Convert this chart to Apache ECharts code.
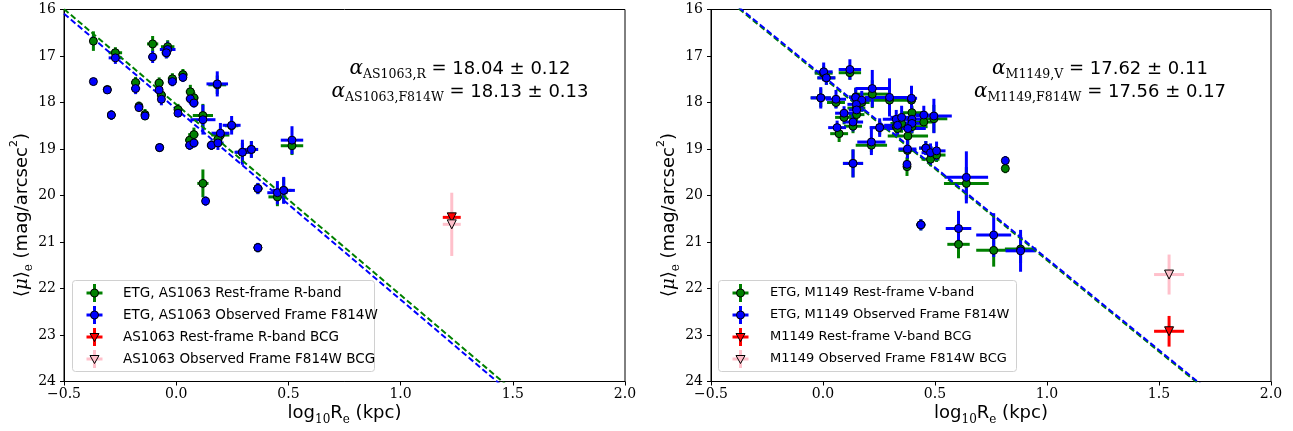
<!DOCTYPE html>
<html>
<head>
<meta charset="utf-8">
<script src="https://cdn.jsdelivr.net/npm/echarts@6/dist/echarts.min.js"></script>
<style>
  html, body { margin: 0; padding: 0; background: #fff; }
  #chart { width: 1293px; height: 431px; }
</style>
</head>
<body>
<div id="chart"></div>
<script>
// ---------- AS1063 ----------
const asRestX    = [-0.369,-0.271,-0.105,-0.038,-0.044,-0.307,-0.181,-0.076,-0.066,-0.017,0.030,0.063,0.079,-0.289,-0.166,-0.139,0.008,-0.074,0.119,0.183,0.247,0.197,0.060,0.079,0.157,0.186,0.295,0.335,0.516,0.119,0.364,0.451,0.479,0.364];
const asRestY    = [16.68,16.93,16.74,16.80,16.93,17.72,17.57,17.58,17.84,17.49,17.40,17.77,17.90,18.27,18.08,18.26,18.15,18.97,18.28,17.62,18.50,18.70,18.81,18.69,18.92,18.79,19.07,19.01,18.93,19.74,19.85,20.03,19.89,21.12];
const asRestXErr = [0.01,0.03,0.025,0.03,0.02,0.01,0.02,0.02,0.02,0.02,0.02,0.02,0.02,0.015,0.015,0.015,0.015,0.015,0.045,0.04,0.03,0.04,0.02,0.02,0.02,0.02,0.03,0.03,0.05,0.025,0.02,0.04,0.035,0.015];
const asRestYErr = [0.21,0.12,0.17,0.14,0.12,0.07,0.12,0.12,0.10,0.12,0.12,0.15,0.12,0.10,0.10,0.12,0.12,0.08,0.25,0.20,0.12,0.15,0.15,0.15,0.10,0.15,0.20,0.18,0.20,0.30,0.12,0.20,0.27,0.10];

const asObsX     = [-0.369,-0.271,-0.105,-0.038,-0.044,-0.307,-0.181,-0.076,-0.066,-0.017,0.030,0.063,0.079,-0.289,-0.166,-0.139,0.008,-0.074,0.119,0.183,0.247,0.197,0.060,0.079,0.157,0.186,0.295,0.335,0.516,0.131,0.364,0.451,0.479,0.364];
const asObsY     = [17.55,17.04,17.02,16.86,16.93,17.73,17.70,17.73,17.93,17.55,17.46,17.92,18.01,18.27,18.11,18.29,18.23,18.97,18.37,17.60,18.49,18.66,18.92,18.87,18.92,18.87,19.07,19.01,18.81,20.12,19.85,19.94,19.89,21.12];
const asObsXErr  = [0.015,0.03,0.02,0.035,0.02,0.01,0.02,0.015,0.015,0.02,0.015,0.02,0.02,0.015,0.015,0.015,0.012,0.015,0.056,0.048,0.04,0.04,0.02,0.02,0.02,0.025,0.035,0.03,0.05,0.01,0.02,0.045,0.05,0.015];
const asObsYErr  = [0.08,0.13,0.13,0.17,0.12,0.07,0.12,0.12,0.13,0.10,0.10,0.12,0.10,0.10,0.08,0.08,0.08,0.08,0.32,0.27,0.20,0.22,0.10,0.10,0.10,0.15,0.27,0.18,0.30,0.10,0.12,0.25,0.29,0.10];

// AS1063 BCG: [x, y, xerr, yerr]
const asBcgRest = [1.228, 20.47, 0.04, 0.10];
const asBcgObs  = [1.228, 20.62, 0.04, 0.68];

// AS1063 fits: mu = intercept + slope * log10(Re)
const asFitRest = { intercept: 18.04, slope: 4.10 };
const asFitObs  = { intercept: 18.14, slope: 4.10 };

// ---------- M1149 ----------
const mRestX    = [0.003,0.015,0.120,-0.010,0.058,0.146,0.173,0.149,0.150,0.094,0.220,0.297,0.395,0.072,0.134,0.253,0.327,0.351,0.333,0.397,0.397,0.379,0.450,0.495,0.216,0.134,0.377,0.375,0.459,0.480,0.507,0.640,0.814,0.437,0.605,0.762,0.882];
const mRestY    = [17.37,17.47,17.36,17.90,18.00,17.88,18.00,18.12,18.26,18.32,17.82,17.95,17.95,18.67,18.51,18.54,18.52,18.45,18.56,18.22,18.52,18.72,18.42,18.35,18.92,19.31,19.03,19.38,18.98,19.22,19.13,19.74,19.42,20.63,21.05,21.18,21.15];
const mRestXErr = [0.04,0.04,0.05,0.045,0.04,0.03,0.035,0.04,0.035,0.04,0.07,0.10,0.02,0.04,0.04,0.04,0.06,0.05,0.06,0.05,0.07,0.09,0.05,0.06,0.07,0.045,0.04,0.01,0.03,0.04,0.04,0.10,0.01,0.02,0.05,0.078,0.07];
const mRestYErr = [0.15,0.15,0.15,0.20,0.12,0.20,0.20,0.15,0.15,0.15,0.30,0.30,0.20,0.18,0.15,0.15,0.15,0.20,0.15,0.15,0.15,0.20,0.15,0.30,0.15,0.30,0.20,0.20,0.15,0.15,0.15,0.35,0.10,0.12,0.30,0.35,0.30];

const mObsX     = [0.003,0.015,0.120,-0.010,0.058,0.146,0.173,0.149,0.150,0.094,0.220,0.297,0.395,0.063,0.134,0.253,0.327,0.351,0.333,0.397,0.397,0.379,0.450,0.495,0.216,0.134,0.377,0.375,0.459,0.480,0.507,0.640,0.814,0.437,0.605,0.762,0.882];
const mObsY     = [17.34,17.47,17.29,17.90,17.93,17.89,17.95,18.04,18.16,18.23,17.70,17.89,17.91,18.54,18.42,18.54,18.36,18.32,18.49,18.36,18.45,18.56,18.27,18.29,18.85,19.31,19.00,19.33,18.98,19.08,19.04,19.61,19.25,20.63,20.71,20.85,21.19];
const mObsXErr  = [0.04,0.04,0.05,0.045,0.045,0.03,0.035,0.04,0.035,0.04,0.075,0.11,0.025,0.04,0.045,0.045,0.06,0.05,0.06,0.05,0.06,0.08,0.05,0.08,0.063,0.045,0.04,0.01,0.03,0.04,0.04,0.097,0.01,0.02,0.057,0.078,0.067];
const mObsYErr  = [0.20,0.15,0.22,0.23,0.20,0.20,0.20,0.15,0.15,0.15,0.40,0.41,0.27,0.15,0.20,0.20,0.20,0.25,0.20,0.25,0.20,0.25,0.20,0.37,0.28,0.30,0.20,0.08,0.15,0.20,0.20,0.56,0.10,0.12,0.38,0.47,0.45];

const mBcgRest = [1.545, 22.92, 0.067, 0.33];
const mBcgObs  = [1.545, 21.70, 0.067, 0.43];

const mFitRest = { intercept: 17.46, slope: 3.93 };
const mFitObs  = { intercept: 17.43, slope: 3.93 };

// axis ranges and tick steps
const xRange = [-0.5, 2.0], xStep = 0.5;
const yRange = [16, 24], yStep = 1;

// ---------- styling ----------
const GREEN = '#008000', BLUE = '#0000ff', RED = '#ff0000', PINK = '#ffc0cb';
const SANS = 'DejaVu Sans', SERIF = 'DejaVu Serif';

const grids = [
  { left: 64, top: 9.5, width: 561, height: 372 },
  { left: 711, top: 9.5, width: 560, height: 372 }
];

function rows(xs, ys, xe, ye) { return xs.map((x, i) => [x, ys[i], xe[i], ye[i]]); }

function errSeries(idx, data, color) {
  return {
    type: 'custom', xAxisIndex: idx, yAxisIndex: idx, z: 2, silent: true,
    encode: { x: 0, y: 1 },
    data: data,
    renderItem: function (params, api) {
      const x = api.value(0), y = api.value(1), xe = api.value(2), ye = api.value(3);
      const l = api.coord([x - xe, y]), r = api.coord([x + xe, y]);
      const t = api.coord([x, y - ye]), b = api.coord([x, y + ye]);
      return { type: 'group', children: [
        { type: 'line', shape: { x1: l[0], y1: l[1], x2: r[0], y2: r[1] }, style: { stroke: color, lineWidth: 3 } },
        { type: 'line', shape: { x1: t[0], y1: t[1], x2: b[0], y2: b[1] }, style: { stroke: color, lineWidth: 3 } }
      ]};
    }
  };
}

function markSeries(idx, data, color, symbol) {
  return {
    type: 'scatter', xAxisIndex: idx, yAxisIndex: idx, z: 4, silent: true,
    symbol: symbol === 'tri' ? 'triangle' : 'circle',
    symbolRotate: symbol === 'tri' ? 180 : 0,
    symbolSize: symbol === 'tri' ? 9 : 8,
    data: data.map(d => [d[0], d[1]]),
    itemStyle: { color: color, borderColor: '#000', borderWidth: 1, opacity: 1 }
  };
}

function fitSeries(idx, fit, color) {
  return {
    type: 'line', xAxisIndex: idx, yAxisIndex: idx, z: 3, silent: true,
    showSymbol: false, clip: true,
    data: xRange.map(x => [x, fit.intercept + fit.slope * x]),
    lineStyle: { color: color, width: 2, type: [6, 3] }
  };
}

const fmtX = v => (v < 0 ? '\u2212' : '') + Math.abs(v).toFixed(1);

function xAxis(idx) {
  return {
    type: 'value', gridIndex: idx, min: xRange[0], max: xRange[1], interval: xStep,
    axisLine: { onZero: false, lineStyle: { color: '#000', width: 1 } },
    axisTick: { inside: false, length: 4, lineStyle: { color: '#000' } },
    splitLine: { show: false },
    axisLabel: { formatter: fmtX, color: '#000', fontFamily: SERIF, fontSize: 14, margin: 6 }
  };
}
function yAxis(idx) {
  return {
    type: 'value', gridIndex: idx, min: yRange[0], max: yRange[1], interval: yStep, inverse: true,
    axisLine: { onZero: false, lineStyle: { color: '#000', width: 1 } },
    axisTick: { inside: false, length: 4, lineStyle: { color: '#000' } },
    splitLine: { show: false },
    axisLabel: { color: '#000', fontFamily: SERIF, fontSize: 14, margin: 8 }
  };
}

// ---------- text and legend ----------
const richBase = {
  a: { fontFamily: SERIF, fontStyle: 'italic', fontSize: 20, lineHeight: 24, verticalAlign: 'middle', fill: '#000' },
  s: { fontFamily: SERIF, fontSize: 12.5, lineHeight: 24, verticalAlign: 'bottom', fill: '#000' },
  e: { fontFamily: SERIF, fontSize: 18, lineHeight: 24, verticalAlign: 'middle', fill: '#000' },
  n: { fontFamily: SANS, fontSize: 18, lineHeight: 24, verticalAlign: 'middle', fill: '#000' }
};

function fitLabel(cx, cy, sub, val) {
  return { type: 'text', x: cx, y: cy, z: 10,
    style: { text: '{a|\u03b1}{s|' + sub + '}{e| = }{n|' + val + '}', rich: richBase, align: 'center', verticalAlign: 'middle' } };
}

const axisTitleRich = {
  n: { fontFamily: SANS, fontSize: 18, lineHeight: 26, verticalAlign: 'middle', fill: '#000' },
  m: { fontFamily: SERIF, fontStyle: 'italic', fontSize: 18, lineHeight: 26, verticalAlign: 'middle', fill: '#000' },
  s: { fontFamily: SERIF, fontSize: 12, lineHeight: 26, verticalAlign: 'bottom', fill: '#000' },
  p: { fontFamily: SANS, fontSize: 11, lineHeight: 26, verticalAlign: 'top', fill: '#000' }
};

function xTitle(cx) {
  return { type: 'text', x: cx, y: 413, z: 10,
    style: { text: '{n|log}{s|10}{n|R}{s|e}{n| (kpc)}', rich: axisTitleRich, align: 'center', verticalAlign: 'middle' } };
}
function yTitle(cx, cy) {
  return { type: 'text', x: cx, y: cy, rotation: Math.PI / 2, z: 10,
    style: { text: '{n|\u27e8}{m|\u03bc}{n|\u27e9}{s|e}{n| (mag/arcsec}{p|2}{n|)}', rich: axisTitleRich, align: 'center', verticalAlign: 'middle' } };
}

function legend(box, iconX, textX, fontSize, entries) {
  const children = [{
    type: 'rect', shape: { x: box.x, y: box.y, width: box.w, height: box.h, r: 3 },
    style: { fill: 'rgba(255,255,255,0.8)', stroke: '#d0d0d0', lineWidth: 1 }
  }];
  entries.forEach((e, i) => {
    const cy = box.y + 12.5 + i * 22;
    children.push({ type: 'line', shape: { x1: iconX - 8, y1: cy, x2: iconX + 8, y2: cy }, style: { stroke: e.color, lineWidth: 3 } });
    children.push({ type: 'line', shape: { x1: iconX, y1: cy - 9, x2: iconX, y2: cy + 9 }, style: { stroke: e.color, lineWidth: 3 } });
    if (e.tri) {
      children.push({ type: 'polygon', shape: { points: [[iconX - 4.5, cy - 3.5], [iconX + 4.5, cy - 3.5], [iconX, cy + 4.5]] },
        style: { fill: e.fill, stroke: '#000', lineWidth: 1 } });
    } else {
      children.push({ type: 'circle', shape: { cx: iconX, cy: cy, r: 4 }, style: { fill: e.fill, stroke: '#000', lineWidth: 1 } });
    }
    children.push({ type: 'text', x: textX, y: cy, style: { text: e.label, fontFamily: SANS, fontSize: fontSize, fill: '#000', align: 'left', verticalAlign: 'middle' } });
  });
  return { type: 'group', z: 20, children: children };
}

const chart = echarts.init(document.getElementById('chart'), null, { renderer: 'canvas' });

chart.setOption({
  animation: false,
  backgroundColor: '#fff',
  grid: grids.map(g => Object.assign({ show: true, borderColor: '#000', borderWidth: 1, backgroundColor: 'transparent' }, g)),
  xAxis: [xAxis(0), xAxis(1)],
  yAxis: [yAxis(0), yAxis(1)],
  series: [
    // error bars
    errSeries(0, rows(asRestX, asRestY, asRestXErr, asRestYErr), GREEN),
    errSeries(0, rows(asObsX, asObsY, asObsXErr, asObsYErr), BLUE),
    errSeries(0, [asBcgRest], RED),
    errSeries(0, [asBcgObs], PINK),
    errSeries(1, rows(mRestX, mRestY, mRestXErr, mRestYErr), GREEN),
    errSeries(1, rows(mObsX, mObsY, mObsXErr, mObsYErr), BLUE),
    errSeries(1, [mBcgRest], RED),
    errSeries(1, [mBcgObs], PINK),
    // fitted relations
    fitSeries(0, asFitRest, GREEN),
    fitSeries(0, asFitObs, BLUE),
    fitSeries(1, mFitRest, GREEN),
    fitSeries(1, mFitObs, BLUE),
    // markers
    markSeries(0, rows(asRestX, asRestY, asRestXErr, asRestYErr), GREEN, 'circle'),
    markSeries(0, rows(asObsX, asObsY, asObsXErr, asObsYErr), BLUE, 'circle'),
    markSeries(0, [asBcgRest], RED, 'tri'),
    markSeries(0, [asBcgObs], PINK, 'tri'),
    markSeries(1, rows(mRestX, mRestY, mRestXErr, mRestYErr), GREEN, 'circle'),
    markSeries(1, rows(mObsX, mObsY, mObsXErr, mObsYErr), BLUE, 'circle'),
    markSeries(1, [mBcgRest], RED, 'tri'),
    markSeries(1, [mBcgObs], PINK, 'tri')
  ],
  graphic: [
    fitLabel(460, 69, 'AS1063,R', '18.04 \u00b1 0.12'),
    fitLabel(460, 92, 'AS1063,F814W', '18.13 \u00b1 0.13'),
    fitLabel(1100, 69, 'M1149,V', '17.62 \u00b1 0.11'),
    fitLabel(1100, 92, 'M1149,F814W', '17.56 \u00b1 0.17'),
    xTitle(344.5),
    xTitle(991),
    yTitle(22, 215),
    yTitle(669, 215),
    legend({ x: 72.5, y: 280.5, w: 302, h: 91 }, 94.5, 123, 13.5, [
      { label: 'ETG, AS1063 Rest-frame R-band', color: GREEN, fill: GREEN },
      { label: 'ETG, AS1063 Observed Frame F814W', color: BLUE, fill: BLUE },
      { label: 'AS1063 Rest-frame R-band BCG', color: RED, fill: RED, tri: true },
      { label: 'AS1063 Observed Frame F814W BCG', color: PINK, fill: PINK, tri: true }
    ]),
    legend({ x: 718.5, y: 280.5, w: 298, h: 91 }, 740.5, 770, 13, [
      { label: 'ETG, M1149 Rest-frame V-band', color: GREEN, fill: GREEN },
      { label: 'ETG, M1149 Observed Frame F814W', color: BLUE, fill: BLUE },
      { label: 'M1149 Rest-frame V-band BCG', color: RED, fill: RED, tri: true },
      { label: 'M1149 Observed Frame F814W BCG', color: PINK, fill: PINK, tri: true }
    ])
  ]
});
</script>
</body>
</html>
